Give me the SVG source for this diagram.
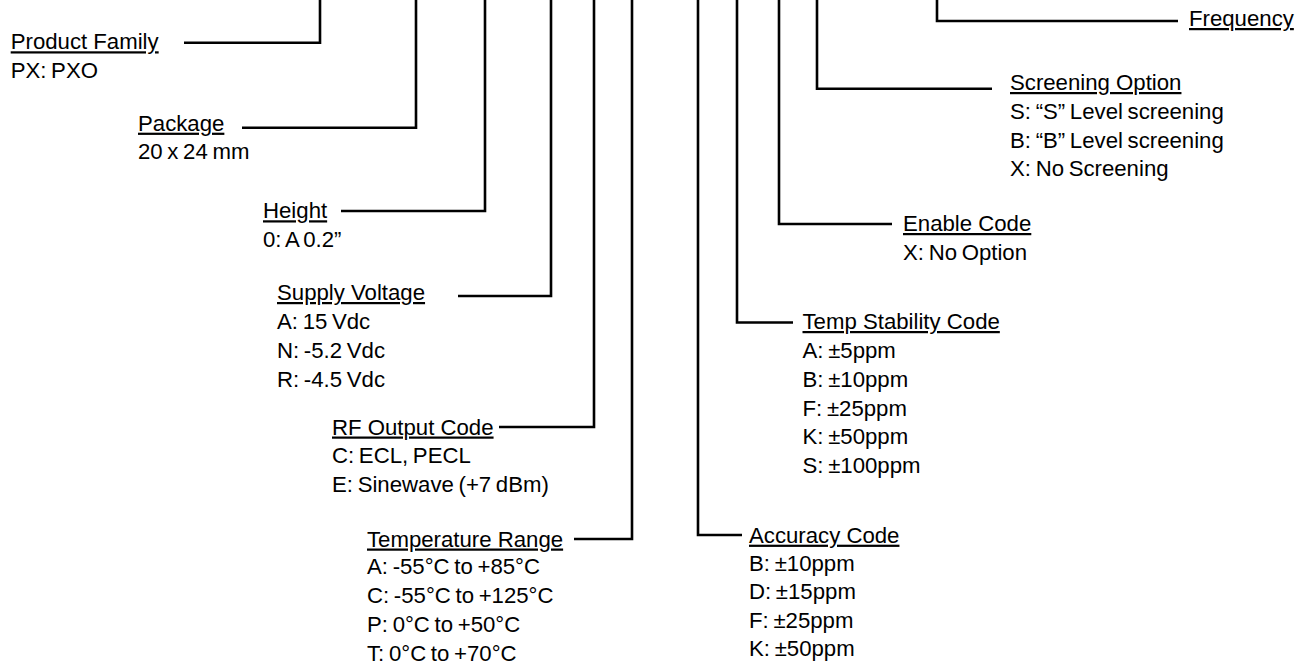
<svg xmlns="http://www.w3.org/2000/svg" width="1304" height="666" viewBox="0 0 1304 666">
<style>
text{font-family:"Liberation Sans",Arial,sans-serif;font-size:22.2px;fill:#000;word-spacing:-1.5px}
.h{text-decoration:underline;word-spacing:0}
.c{fill:none;stroke:#000;stroke-width:2.6;stroke-linejoin:miter;stroke-linecap:butt}
</style>
<rect width="1304" height="666" fill="#fff"/>
<g id="connectors" class="c">
<path d="M320,0 V42.7 H184"/>
<path d="M416,0 V127.7 H242"/>
<path d="M485,0 V211 H341"/>
<path d="M551,0 V296 H458"/>
<path d="M594,0 V427 H499"/>
<path d="M632,0 V539 H574"/>
<path d="M698,0 V535 H742"/>
<path d="M737,0 V322.5 H793"/>
<path d="M779,0 V224 H892"/>
<path d="M817,0 V88.7 H992"/>
<path d="M937,0 V21 H1178"/>
</g>
<g id="product-family">
<text class="h" x="10.7" y="49.3">Product Family</text>
<text x="10.7" y="77.7">PX: PXO</text>
</g>
<g id="package">
<text class="h" x="138" y="130.7">Package</text>
<text x="138" y="159">20 x 24 mm</text>
</g>
<g id="height">
<text class="h" x="263" y="218.3">Height</text>
<text x="263" y="246.7">0: A 0.2”</text>
</g>
<g id="supply-voltage">
<text class="h" x="277" y="300">Supply Voltage</text>
<text x="277" y="329">A: 15 Vdc</text>
<text x="277" y="358">N: -5.2 Vdc</text>
<text x="277" y="387">R: -4.5 Vdc</text>
</g>
<g id="rf-output-code">
<text class="h" x="332" y="434.5">RF Output Code</text>
<text x="332" y="463">C: ECL, PECL</text>
<text x="332" y="492">E: Sinewave (+7 dBm)</text>
</g>
<g id="temperature-range">
<text class="h" x="367" y="546.5">Temperature Range</text>
<text x="367" y="574">A: -55°C to +85°C</text>
<text x="367" y="603">C: -55°C to +125°C</text>
<text x="367" y="632">P: 0°C to +50°C</text>
<text x="367" y="660.5">T: 0°C to +70°C</text>
</g>
<g id="accuracy-code">
<text class="h" x="749" y="542.7">Accuracy Code</text>
<text x="749" y="570.7">B: ±10ppm</text>
<text x="749" y="599">D: ±15ppm</text>
<text x="749" y="628">F: ±25ppm</text>
<text x="749" y="656">K: ±50ppm</text>
</g>
<g id="temp-stability-code">
<text class="h" x="802.5" y="329">Temp Stability Code</text>
<text x="802.5" y="358">A: ±5ppm</text>
<text x="802.5" y="387">B: ±10ppm</text>
<text x="802.5" y="416">F: ±25ppm</text>
<text x="802.5" y="444">K: ±50ppm</text>
<text x="802.5" y="473">S: ±100ppm</text>
</g>
<g id="enable-code">
<text class="h" x="903" y="231">Enable Code</text>
<text x="903" y="259.5">X: No Option</text>
</g>
<g id="screening-option">
<text class="h" x="1010" y="90">Screening Option</text>
<text x="1010" y="119">S: “S” Level screening</text>
<text x="1010" y="147.5">B: “B” Level screening</text>
<text x="1010" y="176">X: No Screening</text>
</g>
<g id="frequency">
<text class="h" x="1189" y="26">Frequency</text>
</g>
</svg>
